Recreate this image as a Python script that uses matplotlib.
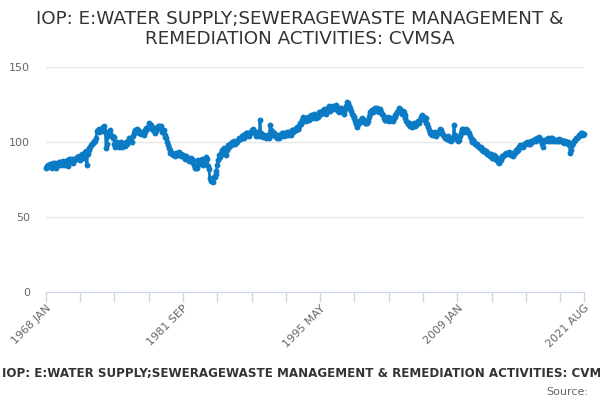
import matplotlib
matplotlib.use("Agg")
import matplotlib.pyplot as plt
import numpy as np

title = "IOP: E:WATER SUPPLY;SEWERAGEWASTE MANAGEMENT &\nREMEDIATION ACTIVITIES: CVMSA"
caption = "IOP: E:WATER SUPPLY;SEWERAGEWASTE MANAGEMENT & REMEDIATION ACTIVITIES: CVMSA"
source = "Source:"

months = ["JAN", "FEB", "MAR", "APR", "MAY", "JUN", "JUL", "AUG", "SEP", "OCT", "NOV", "DEC"]
start_year = 1968

values = [
    # 1968
    83, 84, 83.5, 85, 84, 85.5, 84, 83, 85.5, 86, 84.5, 86,
    # 1969
    83, 85, 86, 84.5, 86.5, 87, 85, 86.5, 87.5, 86, 85, 87,
    # 1970
    87.5, 86, 88, 84, 88.5, 87, 89, 87.5, 86, 89, 88, 89,
    # 1971
    88.5, 90, 89, 91, 90, 88, 90.5, 92, 91, 89.5, 92, 93.5,
    # 1972
    94, 85, 92, 96, 95, 97, 98, 99, 99.5, 100, 101, 100.5,
    # 1973
    103, 107.5, 108, 107, 109, 108, 107.5, 109, 110, 110.5, 108, 107,
    # 1974
    96, 99, 104, 107, 106, 108, 105, 104, 103, 103.5, 99, 97,
    # 1975
    98, 100, 99, 98.5, 96.5, 98, 100, 97, 99, 98, 97.5, 99,
    # 1976
    100, 99, 101, 103, 102, 102.5, 101, 100, 104, 106, 107.5, 108,
    # 1977
    107, 109, 108, 106, 107, 106.5, 105.5, 107, 106, 105, 106.5, 108,
    # 1978
    109.5, 109, 110, 112.7, 111, 110, 111.5, 109, 108, 109.5, 107, 106,
    # 1979
    108, 109, 110.5, 111, 109.5, 110, 111, 107, 106.8, 108, 105, 103.5,
    # 1980
    102.4, 100, 98, 96, 94.7, 93, 92.5, 92.7, 91.4, 92, 90.5, 91.5,
    # 1981
    92.5, 91.6, 93, 93.6, 92, 90.8, 92, 91.5, 91.4, 90, 89, 91,
    # 1982
    90, 88.5, 89.3, 87.5, 89, 88, 89.5, 87, 88, 85, 82.7, 84,
    # 1983
    83, 82.7, 88, 86, 87, 85.5, 88, 89, 84.7, 87, 88.2, 90,
    # 1984
    89, 89, 83.8, 82, 75.8, 74, 75, 75, 73.6, 77, 77, 79,
    # 1985
    81, 85, 88, 91.6, 90, 93, 92, 94.7, 94.9, 96, 93, 91.3,
    # 1986
    95, 96, 98, 97, 99, 98, 100, 99, 99, 100.4, 98.5, 100,
    # 1987
    101, 100, 101.3, 103, 102, 103, 104, 102.5, 104.7, 103, 104, 106,
    # 1988
    105, 106, 105.8, 104, 106, 107, 108, 107, 109, 107.5, 106, 104,
    # 1989
    106, 105.8, 107, 104, 114.7, 106, 104, 104.7, 103.5, 105, 104, 103,
    # 1990
    104, 104.7, 105, 103, 111.3, 108, 106, 105, 107, 106, 104, 105,
    # 1991
    103, 104.5, 103.5, 102.5, 105, 104, 106, 105, 105.8, 104, 106, 105,
    # 1992
    106.5, 105, 105.8, 107, 106, 105, 108, 107, 108, 107.5, 109, 108,
    # 1993
    110, 108.5, 109, 111, 113, 112, 115, 114, 117, 116, 115, 114,
    # 1994
    116, 117, 115.8, 114.5, 116, 118, 117.5, 116, 117, 118.5, 117, 116,
    # 1995
    118, 117, 119, 120, 118.5, 119, 121, 120, 120, 122, 121, 119,
    # 1996
    122, 123, 123.5, 124, 121, 122, 123, 124, 123.5, 122, 124, 125,
    # 1997
    123, 121, 122.4, 120, 121, 123, 122, 120, 119, 121, 122, 124,
    # 1998
    127, 126, 124, 123, 122.4, 121, 119, 118, 117, 116, 114, 112,
    # 1999
    110.2, 112, 114, 113, 113.5, 115, 116, 114, 114.7, 113, 114, 113,
    # 2000
    112.4, 114, 117, 119, 120, 121, 121.3, 120, 122, 121, 123, 122,
    # 2001
    122.4, 121, 120, 122, 121, 120, 119, 118, 116, 115, 114.7, 116,
    # 2002
    115, 116.5, 114, 115, 114.5, 116, 115.5, 114, 116, 118, 117, 119,
    # 2003
    120, 121, 122.4, 121, 122, 120.5, 119, 121, 120, 118, 116, 114,
    # 2004
    113.5, 112, 113, 111, 110.5, 112, 110.2, 111, 112.5, 111, 113, 111.5,
    # 2005
    112.4, 114, 113, 115, 117, 116, 118, 117, 116.5, 115, 115.8, 113,
    # 2006
    112, 110, 108, 106, 107, 105.5, 104.7, 106, 105, 107, 104, 106,
    # 2007
    105.8, 107, 106, 108.5, 108, 107, 106, 105, 104, 103, 102.4, 103.5,
    # 2008
    102, 104, 101.3, 102, 103, 101, 102, 103, 111.3, 105, 102.4, 103,
    # 2009
    102, 100.5, 101.3, 104, 106, 108, 109, 108.5, 107, 108, 109, 107,
    # 2010
    108, 107, 106, 104, 102.4, 101, 100, 101.5, 100, 99, 99, 98.5,
    # 2011
    98, 97.5, 97, 96, 96.5, 95, 95.5, 94, 94.7, 93.5, 94, 92.5,
    # 2012
    92, 93, 91.3, 90.5, 92, 90, 89.5, 91, 91.3, 89, 90, 88.5,
    # 2013
    88, 87, 85.8, 89, 88, 90, 91, 90.5, 91.3, 92, 93, 92,
    # 2014
    93, 92.5, 93.6, 92, 91.5, 93, 92, 91, 92.4, 93, 94.5, 94,
    # 2015
    95, 96, 97, 98, 96.5, 97.5, 98, 97, 99, 98.5, 99.5, 100,
    # 2016
    98.5, 99.5, 100.2, 99, 100.5, 100, 101, 100.5, 101.3, 102, 101, 102.5,
    # 2017
    102, 103, 103.5, 102, 101, 99, 97, 100, 101.5, 101, 101.3, 102,
    # 2018
    101, 102.5, 101.5, 101, 102.4, 103, 102, 101, 101.5, 100.5, 101.3, 100.5,
    # 2019
    101, 102, 101.5, 100.5, 101.3, 101, 100, 100.5, 99.5, 100.5, 100.2, 99.5,
    # 2020
    100, 99.5, 98, 92.4, 95, 98, 99.5, 100.5, 101, 101.5, 102.4, 103,
    # 2021
    103.5, 104, 104.5, 105, 105.8, 106, 105, 105.3,
]

labels = [f"{start_year + i // 12} {months[i % 12]}" for i in range(len(values))]
n = len(values)
x = np.arange(n)

fig = plt.figure(figsize=(6, 4), dpi=100)
ax = fig.add_axes([45.9 / 600, 108 / 400, (583.6 - 45.9) / 600, 225 / 400])

ax.plot(x, values, color="#0a7bc4", lw=2, marker="o", ms=3.2, mec="#0a7bc4",
        mfc="#0a7bc4", clip_on=False, zorder=3)

ax.set_xlim(0, n - 1)
ax.set_ylim(0, 150)
ax.set_yticks([0, 50, 100, 150])
ax.yaxis.grid(True, color="#e6e6e6", lw=1)
ax.set_axisbelow(True)
for s in ["top", "right", "left"]:
    ax.spines[s].set_visible(False)
ax.spines["bottom"].set_color("#ccd6eb")
ax.tick_params(axis="y", length=0, labelsize=8, labelcolor="#666666", pad=11.5)

step = 41
minor = list(range(0, n, step)) + [n - 1]
ax.set_xticks(minor, minor=True)
ax.tick_params(axis="x", which="minor", length=7, color="#ccd6eb", width=1)
major = list(range(0, n, step * 4)) + [n - 1]
ax.set_xticks(major)
ax.set_xticklabels([labels[i] for i in major], rotation=45, ha="right",
                   rotation_mode="anchor", fontsize=8, color="#666666")
ax.tick_params(axis="x", which="major", length=7, color="#ccd6eb", width=1, pad=1)

fig.text(0.5, 1 - 29 / 400, title, ha="center", va="center", fontsize=13.2,
         color="#333333", linespacing=1.2)
fig.text(2 / 600, 1 - 373 / 400, caption, ha="left", va="center", fontsize=8.6,
         fontweight="bold", color="#333333")
fig.text(588 / 600, 1 - 392 / 400, source, ha="right", va="center", fontsize=8,
         color="#666666")

fig.savefig("out.png", dpi=100)
